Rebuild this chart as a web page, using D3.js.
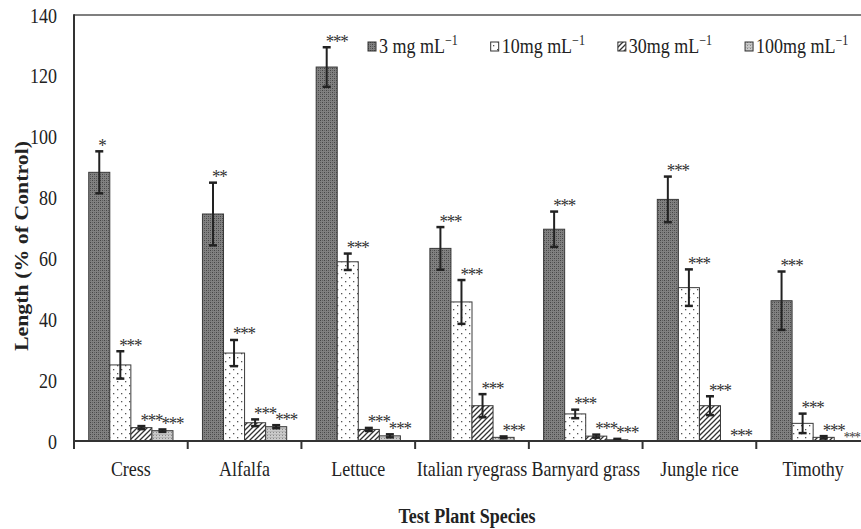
<!DOCTYPE html>
<html>
<head>
<meta charset="utf-8">
<script src="https://cdn.jsdelivr.net/npm/d3@7"></script>
<style>
  html, body { margin: 0; padding: 0; background: #fff; }
  svg { display: block; }
</style>
</head>
<body>
<svg id="chart" width="861" height="529"></svg>
<script>
// ---------------- data ----------------
const categories = ["Cress", "Alfalfa", "Lettuce", "Italian ryegrass", "Barnyard grass", "Jungle rice", "Timothy"];
const seriesKeys = ["c3", "c10", "c30", "c100"];
const seriesNames = ["3 mg mL", "10mg mL", "30mg mL", "100mg mL"];

const values3   = [88.3, 74.6, 122.9, 63.3, 69.6, 79.4, 46.1];
const errors3   = [6.9, 10.3, 6.5, 7.0, 5.8, 7.5, 9.6];
const values10  = [25.0, 28.9, 58.9, 45.7, 8.9, 50.4, 5.8];
const errors10  = [4.5, 4.3, 2.7, 7.2, 1.4, 6.0, 3.2];
const values30  = [4.4, 6.0, 3.8, 11.6, 1.6, 11.6, 1.2];
const errors30  = [0.5, 1.1, 0.5, 3.8, 0.5, 3.1, 0.4];
const values100 = [3.4, 4.7, 1.7, 1.2, 0.4, 0, 0];
const errors100 = [0.4, 0.5, 0.5, 0.3, 0.3, 0, 0];

const sig3   = ["*", "**", "***", "***", "***", "***", "***"];
const sig10  = ["***", "***", "***", "***", "***", "***", "***"];
const sig30  = ["***", "***", "***", "***", "***", "***", "***"];
const sig100 = ["***", "***", "***", "***", "***", "***", "***"];

const yTicks = [0, 20, 40, 60, 80, 100, 120, 140];
const xTitle = "Test Plant Species";
const yTitle = "Length (% of Control)";

// ---------------- setup ----------------
const FONT = "'Liberation Serif', 'Times New Roman', Times, serif";
const S = 1.15; // vertical stretch of text, as in the reference
const W = 861;
const svg = d3.select("#chart");

const x0 = d3.scaleBand().domain(categories).range([74, 870]).padding(0);
const x1 = d3.scaleBand().domain(seriesKeys).range([0, x0.bandwidth()]).paddingInner(0).paddingOuter(0.7);
const y = d3.scaleLinear().domain([0, 140]).range([441, 15]);

const table = [values3, values10, values30, values100];
const errTable = [errors3, errors10, errors30, errors100];
const sigTable = [sig3, sig10, sig30, sig100];

const rows = [];
categories.forEach((c, i) => {
  seriesKeys.forEach((k, j) => {
    rows.push({ cat: c, key: k, v: table[j][i], e: errTable[j][i], s: sigTable[j][i] });
  });
});

// ---------------- patterns ----------------
const defs = svg.append("defs");
const p3 = defs.append("pattern").attr("id", "pat-c3").attr("patternUnits", "userSpaceOnUse")
  .attr("width", 4).attr("height", 4);
p3.append("rect").attr("width", 4).attr("height", 4).attr("fill", "#818181");
p3.append("rect").attr("x", 0).attr("y", 0).attr("width", 1).attr("height", 1).attr("fill", "#454545");
p3.append("rect").attr("x", 2).attr("y", 2).attr("width", 1).attr("height", 1).attr("fill", "#454545");
p3.append("rect").attr("x", 2).attr("y", 0).attr("width", 1).attr("height", 1).attr("fill", "#606060");
p3.append("rect").attr("x", 0).attr("y", 2).attr("width", 1).attr("height", 1).attr("fill", "#606060");
const p10 = defs.append("pattern").attr("id", "pat-c10").attr("patternUnits", "userSpaceOnUse")
  .attr("width", 8).attr("height", 8);
p10.append("rect").attr("width", 8).attr("height", 8).attr("fill", "#fff");
p10.append("rect").attr("x", 1).attr("y", 1).attr("width", 1.3).attr("height", 1.3).attr("fill", "#555");
p10.append("rect").attr("x", 5).attr("y", 5).attr("width", 1.3).attr("height", 1.3).attr("fill", "#555");
const p30 = defs.append("pattern").attr("id", "pat-c30").attr("patternUnits", "userSpaceOnUse")
  .attr("width", 5).attr("height", 5);
p30.append("rect").attr("width", 5).attr("height", 5).attr("fill", "#fff");
p30.append("path").attr("d", "M0,5 L5,0 M-1,1 L1,-1 M4,6 L6,4")
  .attr("stroke", "#333").attr("stroke-width", 1.3);
const p100 = defs.append("pattern").attr("id", "pat-c100").attr("patternUnits", "userSpaceOnUse")
  .attr("width", 3).attr("height", 3);
p100.append("rect").attr("width", 3).attr("height", 3).attr("fill", "#cbcbcb");
p100.append("rect").attr("x", 0).attr("y", 0).attr("width", 1).attr("height", 1).attr("fill", "#8a8a8a");
p100.append("rect").attr("x", 0).attr("y", 2).attr("width", 3).attr("height", 0.6).attr("fill", "#aaa");

// ---------------- frame ----------------
svg.append("line").attr("x1", x0.range()[0]).attr("x2", W).attr("y1", y(140)).attr("y2", y(140))
  .attr("stroke", "#555").attr("stroke-width", 1.5);

// ---------------- bars ----------------
svg.append("g").selectAll("rect").data(rows).join("rect")
  .attr("x", d => x0(d.cat) + x1(d.key))
  .attr("y", d => y(d.v))
  .attr("width", x1.bandwidth())
  .attr("height", d => y(0) - y(d.v))
  .attr("fill", d => `url(#pat-${d.key})`)
  .attr("stroke", d => d.v > 0 ? "#3a3a3a" : "none")
  .attr("stroke-width", 1);

// ---------------- error bars ----------------
const errG = svg.append("g").attr("stroke", "#222");
const withErr = rows.filter(d => d.e > 0);
const cx = d => x0(d.cat) + x1(d.key) + x1.bandwidth() / 2;
errG.selectAll("line.v").data(withErr).join("line").attr("class", "v")
  .attr("x1", cx).attr("x2", cx)
  .attr("y1", d => y(Math.max(0, d.v - d.e))).attr("y2", d => y(d.v + d.e))
  .attr("stroke-width", 2);
errG.selectAll("line.t").data(withErr).join("line").attr("class", "t")
  .attr("x1", d => cx(d) - 4).attr("x2", d => cx(d) + 4)
  .attr("y1", d => y(d.v + d.e)).attr("y2", d => y(d.v + d.e))
  .attr("stroke-width", 2.5);
errG.selectAll("line.b").data(withErr).join("line").attr("class", "b")
  .attr("x1", d => cx(d) - 4).attr("x2", d => cx(d) + 4)
  .attr("y1", d => y(Math.max(0, d.v - d.e))).attr("y2", d => y(Math.max(0, d.v - d.e)))
  .attr("stroke-width", 2.5);

// ---------------- significance labels ----------------
const sigG = svg.append("g");
sigG.selectAll("text").data(rows).join("text")
  .attr("font-family", FONT).attr("font-size", 17).attr("fill", "#333")
  .attr("letter-spacing", -1.2)
  .attr("text-anchor", "start")
  .text(d => d.s)
  .each(function (d) {
    const tx = cx(d) - 1;
    const w = this.getComputedTextLength();
    const avail = W - 1 - tx;
    if (w > avail) {
      // shrink the label at the clipped right edge so it stays inside the picture
      d3.select(this).attr("font-size", 17 * avail / w).attr("letter-spacing", -1.2 * avail / w);
    }
    d3.select(this).attr("transform", `translate(${tx},${y(d.v + d.e) + 0.5}) scale(1,${S})`);
  });

// ---------------- axes ----------------
const yAxis = svg.append("g").attr("transform", `translate(${x0.range()[0]},0)`)
  .call(d3.axisLeft(y).tickValues(yTicks).tickSize(0).tickFormat(d3.format("d")));
yAxis.select(".domain").remove();
yAxis.selectAll("text")
  .attr("x", 0).attr("dy", 0)
  .attr("transform", `translate(-17,7) scale(1,${S})`)
  .attr("font-family", FONT).attr("font-size", 18).attr("fill", "#222")
  .attr("text-anchor", "end");

const xAxis = svg.append("g").attr("transform", `translate(0,${y(0)})`)
  .call(d3.axisBottom(x0).tickSize(0));
xAxis.select(".domain").remove();
xAxis.selectAll("text")
  .attr("y", 0).attr("dy", 0)
  .attr("transform", `translate(0,35) scale(1,${S})`)
  .attr("font-family", FONT).attr("font-size", 18).attr("fill", "#222");

svg.append("line").attr("x1", x0.range()[0]).attr("x2", x0.range()[0])
  .attr("y1", y(140) - 0.75).attr("y2", y(0) + 1)
  .attr("stroke", "#333").attr("stroke-width", 2);
svg.append("line").attr("x1", x0.range()[0] - 1).attr("x2", W)
  .attr("y1", y(0)).attr("y2", y(0))
  .attr("stroke", "#333").attr("stroke-width", 2);
const bounds = categories.map(c => x0(c)).concat([x0.range()[1]]);
svg.append("g").selectAll("line").data(bounds).join("line")
  .attr("x1", d => d).attr("x2", d => d)
  .attr("y1", y(0)).attr("y2", y(0) + 8)
  .attr("stroke", "#333").attr("stroke-width", 2);

// ---------------- axis titles ----------------
svg.append("text")
  .attr("transform", `translate(${(x0.range()[0] + x0.range()[1]) / 2 - 5},523) scale(1,${S})`)
  .attr("text-anchor", "middle").attr("font-family", FONT).attr("font-size", 18)
  .attr("font-weight", "bold").attr("fill", "#222").text(xTitle);
svg.append("text")
  .attr("transform", `translate(28,246) scale(1,${S}) rotate(-90)`)
  .attr("text-anchor", "middle").attr("font-family", FONT).attr("font-size", 19)
  .attr("font-weight", "bold").attr("fill", "#222").text(yTitle);

// ---------------- legend ----------------
const legend = svg.append("g");
let lx = 368;
seriesKeys.forEach((k, j) => {
  legend.append("rect").attr("x", lx).attr("y", 42).attr("width", 8).attr("height", 9)
    .attr("fill", `url(#pat-${k})`).attr("stroke", "#333").attr("stroke-width", 1);
  const t = legend.append("text")
    .attr("transform", `translate(${lx + 11},53) scale(1,${S})`)
    .attr("font-family", FONT).attr("font-size", 18).attr("fill", "#222");
  t.append("tspan").text(seriesNames[j]);
  t.append("tspan").attr("font-size", 12).attr("dy", -7).text("\u22121");
  lx += 11 + t.node().getComputedTextLength() + 33;
});
</script>
</body>
</html>
